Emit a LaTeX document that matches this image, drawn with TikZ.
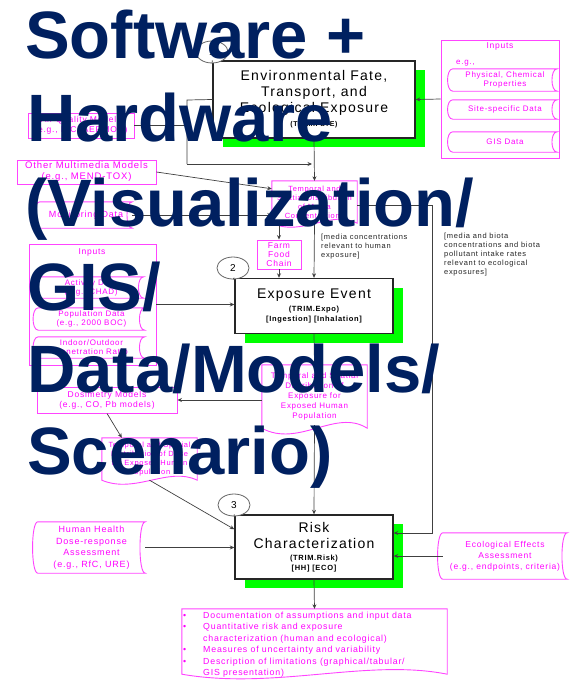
\documentclass[tikz,border=0pt]{standalone}
\usepackage{fontspec}
\setmainfont{Liberation Sans}
\newfontfamily\dg[LetterSpace=9]{Liberation Sans}
\usetikzlibrary{shapes.geometric,shadows,calc,arrows.meta}
\definecolor{navy}{HTML}{002060}
\definecolor{pinkc}{HTML}{FF44FF}
\definecolor{pinkt}{HTML}{FF00FF}
\definecolor{grn}{HTML}{00FF00}
\newcommand{\fsz}[2]{\fontsize{#1}{#2}\selectfont}
\newcommand{\smb}{\bfseries\fsz{7.5}{9}}
\pgfdeclarelayer{back}
\pgfdeclarelayer{bg}
\pgfsetlayers{back,bg,main}
\newcommand{\storedpath}[1]{%
 \begin{pgfonlayer}{bg}
 \draw[pline] let \p1=(#1.south west), \p2=(#1.north east) in
  (\x1,\y1) .. controls ({\x1-7pt},\y1) and ({\x1-7pt},\y2) .. (\x1,\y2) -- (\x2,\y2)
  .. controls ({\x2-7pt},\y2) and ({\x2-7pt},\y1) .. (\x2,\y1) -- cycle;
 \end{pgfonlayer}}
\newcommand{\docpath}[2]{%
 \begin{pgfonlayer}{bg}
 \draw[pline] let \p1=(#1.south west), \p2=(#1.north east) in
  (\x1,\y1) -- (\x1,\y2) -- (\x2,\y2) -- (\x2,\y1)
  .. controls ({\x2-0.3*(\x2-\x1)},{\y1+#2}) and ({\x1+0.35*(\x2-\x1)},{\y1-#2}) .. (\x1,\y1) -- cycle;
 \end{pgfonlayer}}
\tikzset{
 blk/.style={draw=black!85, line width=1.4pt, fill=white, inner sep=0pt, align=center,
   font=\dg\fsz{14}{16}, general shadow={fill=grn, shadow xshift=10pt, shadow yshift=-9pt}},
 pbox/.style={draw=pinkc, line width=0.9pt, inner sep=0pt, align=center, text=pinkt},
 pn/.style={inner sep=0pt, align=center, text=pinkt, font=\dg\fsz{8}{9}},
 pline/.style={draw=pinkc, line width=0.9pt, fill=white},
 conn/.style={draw=black!75, line width=0.7pt, -{Stealth[length=4.5pt,width=4pt]}},
 plainln/.style={draw=black!75, line width=0.7pt},
 circ/.style={ellipse, draw=black!60, line width=0.8pt, minimum width=32pt, minimum height=22pt,
   inner sep=0pt, fill=white, font=\dg\fsz{10}{11}},
 lbl/.style={inner sep=0pt, align=left, anchor=north west, font=\dg\fsz{7.5}{9}, text=black!85},
 ttl/.style={anchor=base west, inner sep=0pt, text=navy, font=\bfseries\fsz{67}{70}}
}
\begin{document}
\begin{tikzpicture}[x=1pt,y=-1pt]
\begin{pgfonlayer}{back}
\fill[white] (0,0) rectangle (570,681);
\end{pgfonlayer}
\useasboundingbox (0,0) rectangle (570,681);

% ---------- main black boxes ----------
\node[blk, minimum width=202pt, minimum height=77pt] (fate) at (314,99.5)
  {Environmental Fate,\\Transport, and\\Ecological Exposure\\[-2pt]\bfseries\fsz{7}{8}(TRIM.FaTE)};
\node[blk, minimum width=158pt, minimum height=55pt] (exp) at (314,306)
  {Exposure Event\\[-3pt]\smb (TRIM.Expo)\\[-6pt]\smb {}[Ingestion] [Inhalation]};
\node[blk, minimum width=158pt, minimum height=64pt] (risk) at (314,547)
  {Risk\\Characterization\\[-4pt]\smb (TRIM.Risk)\\[-6pt]\smb {}[HH] [ECO]};

\node[circ] (c1) at (212,52) {1};
\node[circ] (c2) at (233,268) {2};
\node[circ] (c3) at (234,505) {3};
\draw[plainln] (c1.south) -- (fate.north west);
\draw[plainln] (c2.south) -- (exp.north west);
\draw[plainln] (c3.south) -- (risk.north west);

% ---------- right inputs ----------
\node[pbox, minimum width=118pt, minimum height=118pt] (inR) at (500,99) {};
\node[pn, font=\dg\fsz{8.5}{10}] (inRt) at (500,46) {Inputs};
\node[pn, anchor=west] (inRe) at (456,63) {e.g.,};
\node[pn, minimum width=104pt, minimum height=22pt] (phys) at (505,80) {Physical, Chemical\\Properties};
\storedpath{phys}
\node[pn, minimum width=104pt, minimum height=19pt] (site) at (505,109.5) {Site-specific Data};
\storedpath{site}
\node[pn, minimum width=104pt, minimum height=20pt] (gis) at (505,142) {GIS Data};
\storedpath{gis}

% ---------- left upper ----------
\node[pbox, minimum width=106pt, minimum height=25pt, font=\dg\fsz{8.5}{10}] (air) at (81,125.5) {Air Quality Models\\(e.g., ISC, AERMOD)};
\node[pbox, minimum width=139pt, minimum height=24pt, font=\dg\fsz{9.5}{11}] (mm) at (86.5,172) {Other Multimedia Models\\(e.g., MEND-TOX)};
\node[pn, minimum width=92pt, minimum height=26pt, font=\dg\fsz{9}{10}] (mon) at (86,215) {Monitoring Data};
\storedpath{mon}

\node[pn, minimum width=85pt, minimum height=42pt, font=\dg\fsz{7.5}{9}] (tsd) at (314.5,202) {Temporal and\\Spatial Distribution\\of Media\\Concentrations};
\docpath{tsd}{14pt}
\node[pbox, minimum width=44pt, minimum height=29pt, font=\dg\fsz{8.5}{9}] (farm) at (279,254.5) {Farm\\Food\\Chain};

% ---------- left inputs ----------
\node[pbox, minimum width=127pt, minimum height=121pt] (inL) at (92.5,304.5) {};
\node[pn, font=\dg\fsz{8.5}{10}] (inLt) at (92,252) {Inputs};
\node[pn, minimum width=105pt, minimum height=21pt] (act) at (91,287.5) {Activity Data\\(e.g., CHAD)};
\storedpath{act}
\node[pn, minimum width=106pt, minimum height=22pt] (pop) at (91.5,319) {Population Data\\(e.g., 2000 BOC)};
\storedpath{pop}
\node[pn, minimum width=106pt, minimum height=21pt] (ior) at (91.5,347.5) {Indoor/Outdoor\\Penetration Ratio};
\storedpath{ior}

\node[pbox, minimum width=140pt, minimum height=26pt, font=\dg\fsz{8.5}{10}] (dos) at (107,400) {Dosimetry Models\\(e.g., CO, Pb models)};
\node[pn, minimum width=105pt, minimum height=63pt, font=\dg\fsz{8}{10}] (edist) at (314.5,396.5) {Temporal and Spatial\\Distribution of\\Exposure for\\Exposed Human\\Population};
\docpath{edist}{20pt}
\node[pn, minimum width=95pt, minimum height=42pt, font=\dg\fsz{7.5}{9}] (ddist) at (149.5,459) {Temporal and Spatial\\Distribution of Dose\\for Exposed Human\\Population};
\docpath{ddist}{14pt}

\node[pn, minimum width=107pt, minimum height=51pt, font=\dg\fsz{9}{11.5}] (hh) at (91.5,547.5) {Human Health\\Dose-response\\Assessment\\(e.g., RfC, URE)};
\storedpath{hh}
\node[pn, minimum width=124pt, minimum height=46pt, font=\dg\fsz{8.5}{11}] (eco) at (505,556) {Ecological Effects\\Assessment\\(e.g., endpoints, criteria)};
\storedpath{eco}

\node[pn, minimum width=265pt, minimum height=65pt] (out) at (314.5,641.5) {};
\docpath{out}{16pt}
\node[pn, anchor=north west, align=left, font=\dg\fsz{8.8}{11.5}] (outt) at (183,610)
 {\begin{tabular}{@{}p{20pt}@{}l@{}}
  \textbullet & Documentation of assumptions and input data\\
  \textbullet & Quantitative risk and exposure\\
              & characterization (human and ecological)\\
  \textbullet & Measures of uncertainty and variability\\
  \textbullet & Description of limitations (graphical/tabular/\\
              & GIS presentation)
  \end{tabular}};

% ---------- labels ----------
\node[lbl] (lab1) at (321,234) {[media concentrations\\relevant to human\\exposure]};
\node[lbl] (lab2) at (444,233) {[media and biota\\concentrations and biota\\pollutant intake rates\\relevant to ecological\\exposures]};

% ---------- connectors ----------
\coordinate (j1) at (187,100);
\coordinate (j2) at (187,164);
\coordinate (j3) at (312,164);
\coordinate (r1) at (432,533);
\draw[conn] (inR.west) -- (fate.east);
\draw[plainln] (air.east) -- (air.east -| j1);
\draw[plainln] (fate.west) -- (j1) -- (j2);
\draw[conn] (j2) -- (j3);
\draw[conn] (fate.south) -- (tsd.north);
\draw[conn] (mm.east) -- ($(tsd.north west)+(0,8)$);
\draw[conn] (mon.east) -- (mon.east -| tsd.west);
\draw[conn] ($(tsd.east)+(0,3)$) -| (r1) -- (r1 -| risk.east);
\draw[conn] (tsd.south) -- (exp.north);
\draw[conn] (tsd.south -| farm.north) -- (farm.north);
\draw[conn] (farm.south) -- (farm.south |- exp.north);
\draw[conn] (inL.east) -- (inL.east -| exp.west);
\draw[conn] (exp.south) -- (edist.north);
\draw[conn] (edist.west |- dos.east) -- (dos.east);
\draw[conn] (dos.south) -- ($(ddist.north west)+(20,0)$);
\draw[conn] (ddist.south) -- ($(risk.north west)+(0,15)$);
\draw[conn] ($(edist.south)+(0,-3)$) -- (risk.north);
\draw[conn] (hh.east) -- (hh.east -| risk.west);
\draw[conn] (eco.west) -- (eco.west -| risk.east);
\draw[conn] (risk.south) -- (out.north);

% ---------- title ----------
\node[ttl] (t1) at (25,58) {Software +};
\node[ttl] (t2) at (27,141) {Hardware};
\node[ttl] (t3) at (25,226) {(Visualization/};
\node[ttl] (t4) at (27,310) {GIS/};
\node[ttl] (t5) at (27,392) {Data/Models/};
\node[ttl] (t6) at (27,474) {Scenario)};
\end{tikzpicture}
\end{document}
